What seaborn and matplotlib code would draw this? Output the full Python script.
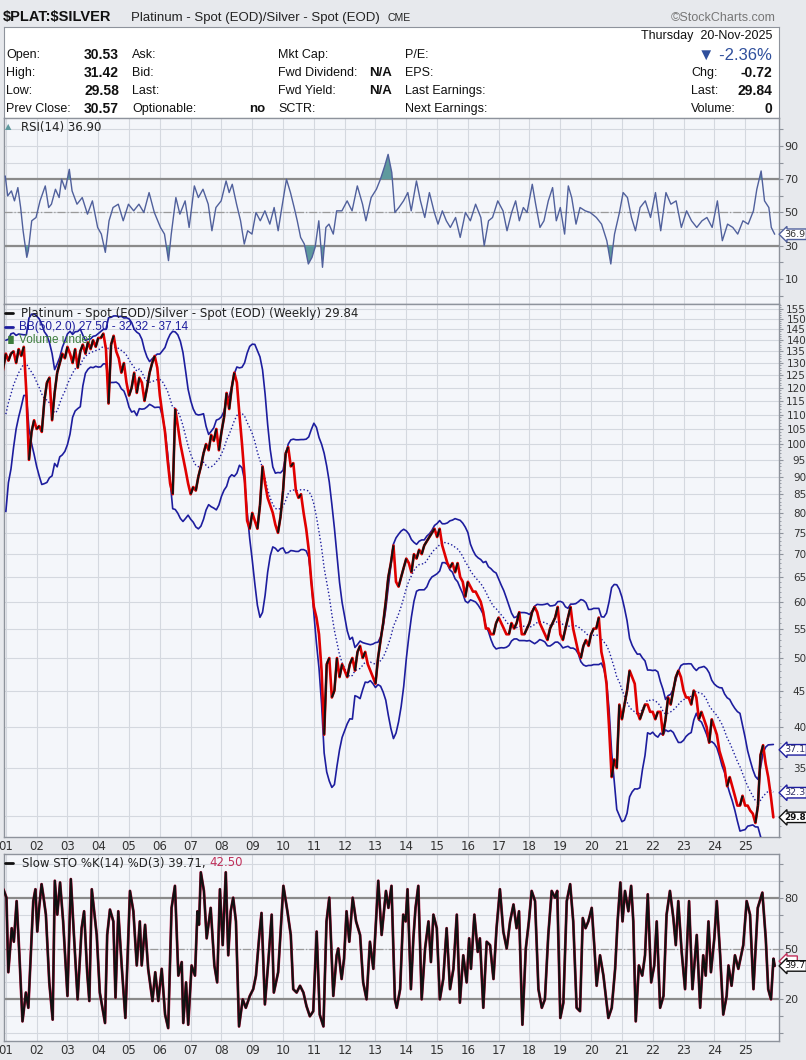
import numpy as np
import pandas as pd
import matplotlib
matplotlib.use("Agg")
import matplotlib.pyplot as plt
import seaborn as sns
from matplotlib.collections import LineCollection
from matplotlib.lines import Line2D
from matplotlib.ticker import FixedLocator, NullFormatter

sns.set_style("white")
plt.rcParams['font.family'] = ['DejaVu Sans']

# =====================
# DATA
# =====================
# $PLAT:$SILVER monthly closes, Jan 2000 .. Nov 2025
# (2000 only feeds the BB(50 weeks ~ 12 months) window, it is off-screen)
ratio_monthly = [
    81, 95, 93, 100, 107, 112, 113, 118, 119, 122, 128, 134,    # 2000
    131, 134, 135, 130, 136, 133, 137, 118, 95, 104, 108, 105,  # 2001
    106, 104, 115, 122, 124, 108, 118, 126, 130, 134, 132, 137, # 2002
    134, 130, 136, 128, 135, 138, 134, 139, 136, 140, 137, 141, # 2003
    141, 143, 136, 114, 138, 142, 135, 132, 126, 130, 122, 117, # 2004
    120, 126, 118, 124, 122, 115, 120, 126, 130, 133, 128, 117, # 2005
    110, 104, 95, 88, 85, 112, 106, 100, 96, 92, 88, 85,        # 2006
    87, 86, 90, 93, 97, 100, 98, 103, 101, 105, 98, 104,        # 2007
    109, 118, 112, 120, 126, 122, 110, 100, 90, 78, 76, 80,     # 2008
    78, 76, 82, 93, 88, 84, 82, 80, 77, 75, 79, 86,             # 2009
    97, 99, 93, 94, 86, 84, 85, 80, 76, 71, 64, 59,             # 2010
    57, 54, 48, 39, 49, 50, 44, 45, 50, 47, 49, 48,             # 2011
    47, 49, 50, 48, 51, 52, 50, 51, 49, 48, 47, 46,             # 2012
    50, 53, 56, 60, 65, 68, 72, 64, 63, 65, 67, 69,             # 2013
    68, 66, 70, 69, 71, 70, 72, 73, 74, 75, 76, 74,             # 2014
    76, 72, 70, 68, 67, 68, 66, 68, 65, 64, 61, 64,             # 2015
    63, 62, 62, 61, 60, 58, 55, 55, 54, 54, 56, 57,             # 2016
    56, 55, 54, 54, 56, 55, 56, 58, 54, 54, 55, 56,             # 2017
    58, 59, 58, 56, 55, 54, 53, 55, 56, 57, 59, 54,             # 2018
    53, 55, 57, 59, 55, 53, 51, 50, 52, 53, 52, 54,             # 2019
    55, 55, 57, 51, 49, 46, 40, 34, 36, 35, 43, 41,             # 2020
    43, 45, 48, 47, 46, 42, 41, 42, 43, 43, 42, 42,             # 2021
    41, 42, 42, 39, 41, 44, 43, 45, 47, 48, 47, 45,             # 2022
    44, 44, 43, 45, 44, 41, 42, 41, 40, 38, 41, 40,             # 2023
    39, 37, 36, 35, 33, 34, 33, 32, 31, 31, 32, 31,             # 2024
    31, 30.5, 30.2, 29.3, 31, 36.5, 37.7, 35.5, 34, 32, 29.84,  # 2025
]

# RSI(14) turning points (decimal year, value)
rsi_points = [
    (2000.98, 72), (2001.06, 60), (2001.18, 63), (2001.28, 57), (2001.39, 65), (2001.48, 53),
    (2001.56, 39), (2001.68, 23), (2001.73, 27), (2001.84, 45), (2001.98, 47), (2002.11, 57),
    (2002.28, 66), (2002.39, 53), (2002.48, 55), (2002.61, 64), (2002.73, 59), (2002.81, 70),
    (2002.93, 64), (2003.06, 76), (2003.15, 63), (2003.31, 55), (2003.48, 59), (2003.65, 49),
    (2003.81, 57), (2003.98, 41), (2004.10, 37), (2004.23, 26), (2004.35, 45), (2004.48, 53),
    (2004.65, 55), (2004.81, 45), (2004.98, 55), (2005.15, 51), (2005.32, 55), (2005.48, 50),
    (2005.65, 62), (2005.82, 50), (2006.02, 41), (2006.15, 37), (2006.28, 21), (2006.37, 37),
    (2006.52, 59), (2006.65, 49), (2006.82, 57), (2006.95, 41), (2007.12, 66), (2007.25, 59),
    (2007.40, 64), (2007.57, 55), (2007.69, 39), (2007.82, 53), (2007.99, 57), (2008.15, 69),
    (2008.25, 62), (2008.35, 67), (2008.49, 55), (2008.62, 45), (2008.74, 31), (2008.85, 39),
    (2008.99, 37), (2009.12, 50), (2009.26, 45), (2009.41, 51), (2009.57, 43), (2009.71, 53),
    (2009.84, 39), (2009.96, 53), (2010.11, 70), (2010.24, 62), (2010.36, 53), (2010.46, 45),
    (2010.57, 35), (2010.69, 31), (2010.82, 19), (2010.94, 23), (2011.04, 29), (2011.16, 45),
    (2011.28, 17), (2011.39, 41), (2011.49, 43), (2011.63, 37), (2011.74, 51), (2011.91, 51),
    (2012.08, 57), (2012.24, 51), (2012.41, 66), (2012.58, 55), (2012.69, 45), (2012.86, 59),
    (2013.03, 64), (2013.16, 70), (2013.30, 78), (2013.41, 85), (2013.53, 74), (2013.63, 50),
    (2013.76, 53), (2013.91, 57), (2014.05, 62), (2014.16, 51), (2014.33, 69), (2014.46, 57),
    (2014.60, 47), (2014.75, 62), (2014.91, 50), (2015.03, 43), (2015.17, 51), (2015.30, 45),
    (2015.43, 41), (2015.60, 47), (2015.75, 35), (2015.92, 50), (2016.08, 45), (2016.25, 55),
    (2016.42, 47), (2016.53, 30), (2016.67, 45), (2016.80, 47), (2016.97, 57), (2017.14, 51),
    (2017.27, 39), (2017.42, 50), (2017.55, 57), (2017.67, 45), (2017.80, 53), (2017.92, 50),
    (2018.09, 67), (2018.20, 55), (2018.34, 41), (2018.47, 45), (2018.61, 57), (2018.75, 65),
    (2018.87, 45), (2019.00, 53), (2019.14, 37), (2019.26, 66), (2019.37, 59), (2019.51, 43),
    (2019.64, 53), (2019.81, 51), (2019.97, 50), (2020.17, 47), (2020.34, 43), (2020.51, 33),
    (2020.64, 19), (2020.76, 37), (2020.92, 50), (2021.04, 62), (2021.18, 59), (2021.31, 47),
    (2021.44, 39), (2021.59, 53), (2021.76, 57), (2021.93, 47), (2022.09, 62), (2022.26, 39),
    (2022.43, 62), (2022.59, 55), (2022.76, 57), (2022.93, 41), (2023.10, 51), (2023.26, 45),
    (2023.43, 41), (2023.60, 45), (2023.76, 47), (2023.93, 41), (2024.10, 57), (2024.26, 33),
    (2024.43, 43), (2024.60, 41), (2024.76, 37), (2024.93, 45), (2025.10, 43), (2025.27, 51),
    (2025.38, 64), (2025.52, 75), (2025.63, 57), (2025.77, 53), (2025.85, 41), (2025.96, 36.9),
]

# Slow STO %K(14) turning points (decimal year, value)
sto_points = [
    (2000.92, 85), (2001.02, 80), (2001.08, 36), (2001.19, 62), (2001.26, 54), (2001.35, 78),
    (2001.44, 46), (2001.54, 7), (2001.65, 24), (2001.73, 15), (2001.89, 78), (2001.96, 85),
    (2002.02, 60), (2002.08, 74), (2002.16, 88), (2002.21, 82), (2002.30, 70), (2002.41, 30),
    (2002.52, 8), (2002.59, 90), (2002.67, 70), (2002.76, 89), (2002.86, 66), (2003.00, 22),
    (2003.11, 91), (2003.21, 58), (2003.33, 20), (2003.46, 62), (2003.54, 72), (2003.64, 36),
    (2003.71, 19), (2003.79, 85), (2003.95, 58), (2004.05, 24), (2004.22, 6), (2004.29, 58),
    (2004.38, 73), (2004.49, 66), (2004.56, 21), (2004.65, 72), (2004.76, 40), (2004.88, 9),
    (2005.03, 84), (2005.14, 72), (2005.25, 40), (2005.35, 66), (2005.41, 40), (2005.52, 64),
    (2005.62, 38), (2005.76, 19), (2005.85, 36), (2005.95, 19), (2006.06, 38), (2006.17, 11),
    (2006.27, 3), (2006.38, 74), (2006.49, 87), (2006.60, 34), (2006.71, 42), (2006.76, 6),
    (2006.85, 30), (2006.92, 5), (2007.03, 40), (2007.14, 34), (2007.22, 72), (2007.27, 64),
    (2007.33, 95), (2007.43, 84), (2007.52, 56), (2007.65, 74), (2007.77, 40), (2007.86, 30),
    (2007.95, 85), (2008.04, 52), (2008.14, 95), (2008.22, 46), (2008.30, 72), (2008.38, 80),
    (2008.47, 66), (2008.57, 4), (2008.69, 20), (2008.79, 15), (2008.92, 22), (2009.03, 26),
    (2009.12, 34), (2009.23, 58), (2009.30, 71), (2009.41, 17), (2009.52, 42), (2009.63, 70),
    (2009.70, 24), (2009.84, 36), (2010.01, 87), (2010.14, 72), (2010.25, 58), (2010.33, 26),
    (2010.44, 24), (2010.55, 28), (2010.66, 24), (2010.76, 16), (2010.87, 10), (2010.98, 13),
    (2011.09, 60), (2011.19, 11), (2011.31, 4), (2011.41, 66), (2011.50, 80), (2011.63, 22),
    (2011.74, 46), (2011.79, 50), (2011.90, 32), (2011.98, 44), (2012.06, 72), (2012.15, 54),
    (2012.26, 80), (2012.37, 66), (2012.50, 58), (2012.60, 30), (2012.71, 20), (2012.82, 54),
    (2012.93, 38), (2013.09, 90), (2013.20, 58), (2013.34, 84), (2013.42, 74), (2013.52, 87),
    (2013.63, 20), (2013.69, 15), (2013.80, 26), (2013.90, 70), (2013.98, 66), (2014.04, 85),
    (2014.15, 26), (2014.23, 56), (2014.30, 74), (2014.39, 87), (2014.50, 20), (2014.61, 50),
    (2014.72, 66), (2014.80, 42), (2014.88, 70), (2014.99, 62), (2015.09, 20), (2015.20, 32),
    (2015.31, 62), (2015.42, 26), (2015.53, 38), (2015.64, 70), (2015.74, 18), (2015.85, 46),
    (2015.96, 30), (2016.04, 56), (2016.10, 38), (2016.21, 70), (2016.32, 48), (2016.39, 56),
    (2016.50, 15), (2016.61, 54), (2016.72, 52), (2016.83, 32), (2016.93, 62), (2017.04, 85),
    (2017.15, 60), (2017.26, 50), (2017.37, 66), (2017.48, 76), (2017.58, 62), (2017.66, 72),
    (2017.77, 5), (2017.88, 50), (2017.98, 66), (2018.07, 84), (2018.18, 78), (2018.29, 26),
    (2018.40, 15), (2018.50, 20), (2018.61, 58), (2018.72, 84), (2018.83, 80), (2018.90, 84),
    (2019.00, 9), (2019.10, 18), (2019.21, 78), (2019.32, 88), (2019.42, 66), (2019.53, 15),
    (2019.64, 13), (2019.73, 68), (2019.82, 62), (2019.91, 66), (2020.02, 74), (2020.11, 50),
    (2020.18, 28), (2020.29, 46), (2020.40, 34), (2020.56, 9), (2020.67, 15), (2020.78, 38),
    (2020.86, 66), (2020.95, 89), (2021.02, 66), (2021.10, 84), (2021.21, 72), (2021.30, 87),
    (2021.37, 66), (2021.45, 7), (2021.55, 40), (2021.66, 34), (2021.75, 46), (2021.84, 82),
    (2021.95, 30), (2022.05, 40), (2022.13, 66), (2022.24, 15), (2022.35, 22), (2022.45, 70),
    (2022.56, 84), (2022.67, 68), (2022.75, 52), (2022.83, 78), (2022.94, 48), (2023.05, 26),
    (2023.18, 78), (2023.29, 26), (2023.43, 58), (2023.54, 15), (2023.64, 46), (2023.72, 34),
    (2023.81, 66), (2023.89, 36), (2024.00, 56), (2024.08, 78), (2024.19, 46), (2024.29, 11),
    (2024.40, 22), (2024.46, 40), (2024.56, 28), (2024.67, 46), (2024.78, 38), (2024.94, 52),
    (2025.05, 78), (2025.16, 70), (2025.27, 26), (2025.41, 74), (2025.56, 83), (2025.67, 56),
    (2025.75, 26), (2025.84, 20), (2025.92, 44), (2025.96, 39.71),
]

year_ticks = list(range(2001, 2026))
year_labels = [f"{y % 100:02d}" for y in year_ticks]
price_ticks = list(range(30, 160, 5))
price_labels = [''] + [str(t) for t in price_ticks[1:]]
osc_grid = list(range(0, 101, 10))
rsi_labels = {10: '10', 30: '30', 50: '50', 70: '70', 90: '90'}
sto_labels = {20: '20', 50: '50', 80: '80'}

# header / quote box
title_sym = r"\$PLAT:\$SILVER"
title_name = "Platinum - Spot (EOD)/Silver - Spot (EOD)"
quote_left = [("Open:", "30.53"), ("High:", "31.42"), ("Low:", "29.58"), ("Prev Close:", "30.57")]
quote_col2 = ["Ask:", "Bid:", "Last:", "Optionable:"]
quote_col3 = [("Mkt Cap:", ""), ("Fwd Dividend:", "N/A"), ("Fwd Yield:", "N/A"), ("SCTR:", "")]
quote_col4 = ["P/E:", "EPS:", "Last Earnings:", "Next Earnings:"]
quote_right = [("Chg:", "-0.72"), ("Last:", "29.84"), ("Volume:", "0")]

bb_last = (27.50, 32.32, 37.14)
last_close = 29.84
rsi_last = 36.90
sto_last = (39.71, 42.50)

# =====================
# STYLE
# =====================
W, H = 806, 1060
X0, X1 = 2000.94, 2026.10
FIG_BG = '#e7e9ed'
PANEL = '#f4f6fa'
GRID = '#d4d8df'
SPINE = '#8e939c'
BB_COL = '#1d1d9e'
RSI_COL = '#50609c'
FILL_COL = '#5f9a9e'
RED = '#e00000'
SANS = ['Liberation Sans', 'DejaVu Sans']

fig = plt.figure(figsize=(W / 100, H / 100), dpi=100, facecolor=FIG_BG)


def px_axes(x0, y0, x1, y1):
    return fig.add_axes([x0 / W, 1 - y1 / H, (x1 - x0) / W, (y1 - y0) / H])


def ftxt(x, y, s, **kw):
    kw.setdefault('va', 'center')
    return fig.text(x / W, 1 - y / H, s, **kw)


def style_panel(ax, show_dates):
    ax.set_facecolor(PANEL)
    for sp in ax.spines.values():
        sp.set_color(SPINE)
        sp.set_linewidth(1.0)
    ax.set_xlim(X0, X1)
    ax.set_xticks(year_ticks)
    ax.set_xticklabels(year_labels if show_dates else [''] * len(year_ticks))
    ax.grid(True, color=GRID, lw=0.8)
    ax.set_axisbelow(True)
    ax.yaxis.tick_right()
    ax.tick_params(axis='x', length=0, labelsize=8.5, labelcolor='#333333', pad=2.5)
    ax.tick_params(axis='y', length=3, color=SPINE, labelsize=8, labelcolor='#333333', pad=1)
    ax.set_xlabel('')
    ax.set_ylabel('')


def value_box(ax, y, text, ec, tc, bold=False):
    ax.annotate(text, xy=(1.0, y), xycoords=ax.get_yaxis_transform(),
                xytext=(4.0, 0), textcoords='offset points', ha='left', va='center',
                fontsize=6.3 if bold else 6.8, color=tc, fontweight='bold' if bold else 'normal',
                bbox=dict(boxstyle='larrow,pad=0.08', fc='white', ec=ec, lw=1.0),
                annotation_clip=False, zorder=10)


# =====================
# HEADER
# =====================
ftxt(3, 17, title_sym, fontsize=10.5, fontweight='bold', family=SANS, color='#111111')
ftxt(131, 18, title_name, fontsize=9.5, family=SANS, color='#222222')
ftxt(388, 18, "CME", fontsize=7.5, family=SANS, color='#222222')
ftxt(776, 18, "\u00a9StockCharts.com", fontsize=9, family=SANS, color='#777777', ha='right')

info = px_axes(4, 27, 779, 118)
info.set_facecolor('white')
info.set_xticks([])
info.set_yticks([])
for sp in info.spines.values():
    sp.set_color(SPINE)

ftxt(772, 36, "Thursday  20-Nov-2025", fontsize=9, family=SANS, ha='right', color='#111111')
row_y = [55, 73, 91, 109]
for (lab, val), lab2, (lab3, val3), lab4, y in zip(quote_left, quote_col2, quote_col3, quote_col4, row_y):
    ftxt(6, y, lab, fontsize=9, family=SANS, color='#111111')
    ftxt(119, y, val, fontsize=10, fontweight='bold', family=SANS, ha='right', color='#111111')
    ftxt(132, y, lab2, fontsize=9, family=SANS, color='#111111')
    ftxt(278, y, lab3, fontsize=9, family=SANS, color='#111111')
    if val3:
        ftxt(392, y, val3, fontsize=9.5, fontweight='bold', family=SANS, ha='right', color='#111111')
    ftxt(405, y, lab4, fontsize=9, family=SANS, color='#111111')
ftxt(265, 109, "no", fontsize=9.5, fontweight='bold', family=SANS, ha='right', color='#111111')
ftxt(772, 55, "\u25bc -2.36%", fontsize=12, family=SANS, ha='right', color='#2f4f9c')
for (lab, val), y in zip(quote_right, row_y[1:]):
    ftxt(691, y, lab, fontsize=9, family=SANS, color='#111111')
    ftxt(772, y, val, fontsize=10, fontweight='bold', family=SANS, ha='right', color='#111111')

# =====================
# RSI PANEL
# =====================
ax_rsi = px_axes(4, 118, 779, 304)
rsi_date = np.array([p[0] for p in rsi_points])
rsi_val = np.array([p[1] for p in rsi_points], dtype=float)
sns.lineplot(x=rsi_date, y=rsi_val, ax=ax_rsi, color=RSI_COL, lw=1.0, zorder=3)
ax_rsi.fill_between(rsi_date, rsi_val, 70, where=rsi_val > 70, interpolate=True,
                    color=FILL_COL, lw=0, zorder=2)
ax_rsi.fill_between(rsi_date, rsi_val, 30, where=rsi_val < 30, interpolate=True,
                    color=FILL_COL, lw=0, zorder=2)
ax_rsi.axhline(70, color='#8a8a8a', lw=1.6, zorder=1.5)
ax_rsi.axhline(30, color='#8a8a8a', lw=1.6, zorder=1.5)
ax_rsi.axhline(50, color='#9a9a9a', lw=0.9, ls='-.', zorder=1.5)
ax_rsi.set_ylim(-5.1, 106.9)
ax_rsi.set_yticks(osc_grid)
ax_rsi.set_yticklabels([rsi_labels.get(v, '') for v in osc_grid])
style_panel(ax_rsi, show_dates=False)
value_box(ax_rsi, rsi_last, f"{rsi_last:.1f}", '#50609c', '#333333')
ftxt(5, 127, "\u25b2", fontsize=6, color=FILL_COL)
ftxt(21, 127, f"RSI(14) {rsi_last:.2f}", fontsize=8.5, color='#222222')

# =====================
# PRICE PANEL
# =====================
ax_main = px_axes(4, 304, 779, 837)
ratio = pd.Series(ratio_monthly, dtype=float)
ratio_dates = 2000 + (np.arange(len(ratio)) + 1) / 12
bb_mid = ratio.rolling(12).mean()
bb_sd = ratio.rolling(12).std(ddof=0)
df = pd.DataFrame({'date': ratio_dates, 'close': ratio,
                   'mid': bb_mid, 'upper': bb_mid + 2 * bb_sd, 'lower': bb_mid - 2 * bb_sd})

ax_main.set_yscale('log')
sns.lineplot(data=df, x='date', y='upper', ax=ax_main, color=BB_COL, lw=1.2, zorder=3)
sns.lineplot(data=df, x='date', y='lower', ax=ax_main, color=BB_COL, lw=1.2, zorder=3)
sns.lineplot(data=df, x='date', y='mid', ax=ax_main, color=BB_COL, lw=1.0,
             linestyle=(0, (1, 1.6)), zorder=3)
sns.lineplot(data=df, x='date', y='close', ax=ax_main, color=RED, lw=1.9, zorder=4)
up_segs = [[(ratio_dates[i], ratio[i]), (ratio_dates[i + 1], ratio[i + 1])]
           for i in range(len(ratio) - 1) if ratio[i + 1] > ratio[i]]
ax_main.add_collection(LineCollection(up_segs, colors='#111111', linewidths=1.5, zorder=5))

ax_main.set_ylim(28.0, 157.4)
ax_main.yaxis.set_major_locator(FixedLocator(price_ticks))
ax_main.yaxis.set_minor_locator(FixedLocator(list(range(28, 158))))
ax_main.yaxis.set_minor_formatter(NullFormatter())
ax_main.set_yticks(price_ticks)
ax_main.set_yticklabels(price_labels)
style_panel(ax_main, show_dates=True)
ax_main.grid(False, which='minor')
ax_main.tick_params(axis='y', which='major', labelsize=7.5, pad=16.5)
ax_main.tick_params(axis='y', which='minor', length=1.5, color=SPINE)
for lbl in ax_main.get_yticklabels():
    lbl.set_horizontalalignment('right')

value_box(ax_main, bb_last[2], f"{bb_last[2]:.1f}", BB_COL, '#333366')
value_box(ax_main, bb_last[1], f"{bb_last[1]:.1f}", BB_COL, '#333366')
value_box(ax_main, last_close, f"{last_close:.1f}", '#111111', '#111111', bold=True)

fig.add_artist(Line2D([5 / W, 13 / W], [1 - 313 / H] * 2, color='#111111', lw=2))
ftxt(21, 313, f"Platinum - Spot (EOD)/Silver - Spot (EOD) (Weekly) {last_close:.2f}",
     fontsize=8.5, color='#222222')
fig.add_artist(Line2D([5 / W, 13 / W], [1 - 327 / H] * 2, color=BB_COL, lw=2))
ftxt(19, 327, f"BB(50,2.0) {bb_last[0]:.2f} - {bb_last[1]:.2f} - {bb_last[2]:.2f}",
     fontsize=8.5, family=SANS, color=BB_COL)
ftxt(5, 340, "\u2590\u258c", fontsize=6, color='#3d7d3d')
ftxt(19, 340, "Volume undef", fontsize=8.5, family=SANS, color='#3d7d3d')

# =====================
# SLOW STOCHASTIC PANEL
# =====================
ax_sto = px_axes(4, 854, 779, 1041)
sto_date = np.array([p[0] for p in sto_points])
sto_k = np.array([p[1] for p in sto_points], dtype=float)
sns.lineplot(x=sto_date, y=sto_k, ax=ax_sto, color='#b0103a', lw=2.0, zorder=3)
sns.lineplot(x=sto_date, y=sto_k, ax=ax_sto, color='#111111', lw=1.5, zorder=4)
ax_sto.axhline(80, color='#8a8a8a', lw=1.6, zorder=1.5)
ax_sto.axhline(20, color='#8a8a8a', lw=1.6, zorder=1.5)
ax_sto.axhline(50, color='#9a9a9a', lw=0.9, ls='-.', zorder=1.5)
ax_sto.set_ylim(-4.6, 105.8)
ax_sto.set_yticks(osc_grid)
ax_sto.set_yticklabels([sto_labels.get(v, '') for v in osc_grid])
style_panel(ax_sto, show_dates=True)
# %D marker sits behind the %K one; only its red edge shows
value_box(ax_sto, sto_last[1], "    ", '#c0305a', '#c0305a')
value_box(ax_sto, sto_last[0], f"{sto_last[0]:.1f}", '#111111', '#111111')

fig.add_artist(Line2D([5 / W, 13 / W], [1 - 863 / H] * 2, color='#111111', lw=2))
t = ftxt(22, 863, f"Slow STO %K(14) %D(3) {sto_last[0]:.2f}, ", fontsize=8.5, color='#222222')
fig.canvas.draw()
bb = t.get_window_extent()
fig.text(bb.x1 / W, 1 - 863 / H, f"{sto_last[1]:.2f}", fontsize=8.5, color='#c0305a', va='center')

plt.savefig('out.png', dpi=100, facecolor=FIG_BG)
plt.close()
